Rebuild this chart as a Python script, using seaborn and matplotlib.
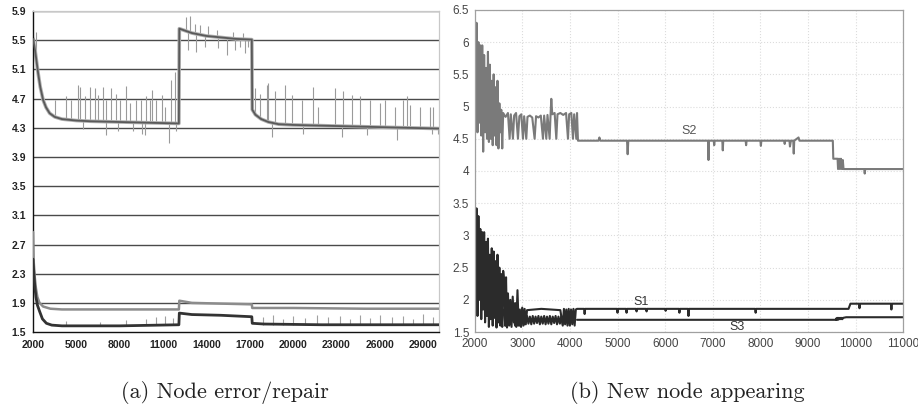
"""
Two-panel convergence plot: (a) node error/repair, (b) new node appearing
"""
import numpy as np
import matplotlib
matplotlib.use("Agg")
import matplotlib.pyplot as plt
import seaborn as sns

sns.set_theme(style="white")
plt.rcParams['font.family'] = ['Liberation Sans', 'DejaVu Sans']

# ---------------- (a) node error / repair ----------------
# upper cluster, smoothed trace
a_up_x = [2000, 2150, 2350, 2500, 2700, 2900, 3150, 3500, 4000, 5000, 6000, 8000, 10000, 12100,
          12130, 13000, 14000, 15000, 16000, 17150,
          17180, 17400, 17800, 18300, 19000, 20000, 22000, 24000, 26000, 28000, 30100]
a_up_y = [5.52, 5.35, 5.05, 4.86, 4.68, 4.58, 4.50, 4.45, 4.42, 4.40, 4.39, 4.38, 4.37, 4.36,
          5.66, 5.60, 5.56, 5.54, 5.52, 5.51,
          4.55, 4.48, 4.42, 4.38, 4.35, 4.34, 4.33, 4.32, 4.31, 4.30, 4.29]

# upper cluster, raw trace spikes (x, base, tip)
a_spike_x = [2185, 3500, 4310, 4657, 5119, 5234, 5580, 5927, 6274, 6505, 6851, 7082, 7429, 7775,
             8006, 8422, 8699, 9161, 9508, 9854, 10085, 10270, 10547, 10940, 11125, 11587, 11818,
             5465, 7036, 7891, 8930, 9560, 9739, 11425, 11933,
             12626, 12903, 13204, 13550, 14128, 14705, 15860, 16553,
             12742, 13319, 13897, 14821, 15398, 15976, 16322, 16669, 16900,
             17362, 17708, 18170, 18286, 18748, 19441, 19903, 20596, 21404, 21751, 22906, 23483,
             24061, 24638, 25331, 26024, 26371, 27064, 27641, 27872, 28103, 28796, 29489, 29720,
             18517, 20711, 23368, 25100, 27179, 29605, 30060]
a_spike_base = [5.35, 4.44, 4.42, 4.41, 4.40, 4.40, 4.40, 4.39, 4.39, 4.39, 4.38, 4.38, 4.38, 4.38,
                4.38, 4.37, 4.37, 4.37, 4.37, 4.37, 4.37, 4.37, 4.36, 4.36, 4.36, 4.36, 4.36,
                4.40, 4.38, 4.38, 4.37, 4.37, 4.37, 4.36, 4.36,
                5.62, 5.61, 5.60, 5.59, 5.57, 5.56, 5.54, 5.53,
                5.61, 5.60, 5.58, 5.56, 5.55, 5.54, 5.53, 5.52, 5.52,
                4.47, 4.44, 4.41, 4.40, 4.38, 4.36, 4.35, 4.34, 4.34, 4.34, 4.33, 4.33,
                4.32, 4.32, 4.31, 4.31, 4.31, 4.30, 4.30, 4.30, 4.30, 4.29, 4.29, 4.29,
                4.39, 4.34, 4.33, 4.32, 4.30, 4.29, 4.29]
a_spike_tip = [5.62, 4.68, 4.73, 4.68, 4.89, 4.86, 4.73, 4.86, 4.84, 4.75, 4.86, 4.68, 4.84, 4.77,
               4.68, 4.87, 4.64, 4.68, 4.68, 4.73, 4.68, 4.82, 4.68, 4.75, 4.59, 4.95, 5.07,
               4.29, 4.20, 4.25, 4.26, 4.22, 4.20, 4.09, 4.25,
               5.82, 5.83, 5.73, 5.71, 5.69, 5.64, 5.62, 5.60,
               5.37, 5.34, 5.41, 5.39, 5.30, 5.37, 5.41, 5.32, 5.41,
               4.84, 4.77, 4.89, 4.91, 4.80, 4.89, 4.75, 4.68, 4.86, 4.59, 4.84, 4.80,
               4.75, 4.73, 4.68, 4.64, 4.68, 4.59, 4.68, 4.73, 4.61, 4.59, 4.59, 4.59,
               4.18, 4.22, 4.18, 4.20, 4.13, 4.22, 4.22]

# lower cluster, light trace
a_lo1_x = [2000, 2050, 2120, 2200, 2300, 2450, 2700, 3200, 4000, 8000, 12100,
           12130, 13000, 15000, 17150, 17180, 20000, 25000, 30100]
a_lo1_y = [2.87, 2.45, 2.25, 2.10, 1.98, 1.90, 1.85, 1.82, 1.81, 1.81, 1.81,
           1.93, 1.90, 1.89, 1.88, 1.83, 1.83, 1.82, 1.82]

# lower cluster, dark trace
a_lo2_x = [2000, 2050, 2115, 2200, 2300, 2460, 2650, 2925, 3300, 4000, 8000, 12100,
           12130, 13000, 15000, 17150, 17180, 18000, 22000, 30100]
a_lo2_y = [2.50, 2.32, 2.14, 1.98, 1.87, 1.78, 1.68, 1.62, 1.595, 1.585, 1.585, 1.60,
           1.76, 1.74, 1.73, 1.71, 1.62, 1.61, 1.60, 1.60]

# lower cluster, raw trace spikes
a_lspike_x = [4310, 6620, 8470, 9854, 10547, 11125, 11700, 17940, 18632, 19325, 20018, 20826,
              21635, 22444, 23252, 23945, 24638, 25331, 26024, 26833, 27641, 28334, 29027, 29720]
a_lspike_tip = [1.65, 1.64, 1.66, 1.68, 1.70, 1.72, 1.69, 1.70, 1.73, 1.68, 1.72, 1.69,
                1.74, 1.70, 1.72, 1.68, 1.73, 1.69, 1.74, 1.70, 1.72, 1.68, 1.75, 1.70]

a_yticks = [1.5, 1.9, 2.3, 2.7, 3.1, 3.5, 3.9, 4.3, 4.7, 5.1, 5.5, 5.9]
a_xticks = [2000, 5000, 8000, 11000, 14000, 17000, 20000, 23000, 26000, 29000]

# ---------------- (b) new node appearing ----------------
# S2: early oscillation sampled every 20 iterations, then steps
s2_early_y = [6.37, 4.90, 6.30, 4.60, 6.00, 4.75, 5.95, 4.55, 5.95, 4.30,
              5.80, 4.60, 5.60, 4.50, 5.85, 4.45, 5.65, 4.50, 5.40, 4.40,
              5.50, 4.55, 5.30, 4.40, 5.40, 4.35, 5.05, 4.60, 4.95, 4.35, 4.90]
s2_x = [2610, 2650, 2700, 2735, 2760, 2805, 2830, 2870, 2910, 2940, 2980, 3015, 3040, 3085,
        3110, 3160, 3210, 3260, 3290, 3340, 3390, 3435, 3460, 3505, 3530, 3575, 3595, 3610,
        3630, 3680, 3715, 3740, 3800, 3860, 3920, 3960, 3985, 4030, 4065, 4090, 4135, 4150,
        4170, 4600, 4620, 4640, 5200, 5213, 5226, 6900, 6910, 6920, 7020, 7030, 7040, 7200,
        7210, 7220, 7690, 7700, 7710, 8000, 8010, 8020, 8500, 8510, 8520, 8610, 8620, 8640,
        8690, 8700, 8710, 8800, 8820, 9520, 9530, 9620, 9630, 9650, 9670, 9690, 9710, 9730,
        9745, 10180, 10190, 10200, 11000]
s2_y = [4.88, 4.84, 4.90, 4.50, 4.88, 4.50, 4.86, 4.90, 4.50, 4.85, 4.88, 4.50, 4.85, 4.50,
        4.84, 4.86, 4.83, 4.50, 4.85, 4.83, 4.86, 4.50, 4.86, 4.50, 4.87, 4.50, 4.88, 5.12,
        4.88, 4.90, 4.50, 4.88, 4.90, 4.87, 4.90, 4.50, 4.88, 4.90, 4.50, 4.88, 4.50, 4.90,
        4.47, 4.47, 4.52, 4.47, 4.47, 4.26, 4.47, 4.47, 4.17, 4.47, 4.47, 4.40, 4.47, 4.47,
        4.32, 4.47, 4.47, 4.40, 4.47, 4.47, 4.39, 4.47, 4.47, 4.42, 4.47, 4.47, 4.38, 4.47,
        4.47, 4.27, 4.47, 4.52, 4.47, 4.47, 4.19, 4.19, 4.03, 4.19, 4.03, 4.19, 4.03, 4.17,
        4.03, 4.03, 3.96, 4.03, 4.03]

# S1: early oscillation sampled every 20 iterations, then band and steps
s1_early_y = [2.60, 1.90, 3.42, 1.75, 3.30, 2.00, 3.10, 1.70, 3.05, 1.85,
              3.05, 1.65, 2.90, 1.75, 2.95, 1.58, 2.70, 1.70, 2.80, 1.60,
              2.75, 1.72, 2.60, 1.57, 2.70, 1.65, 2.50, 1.60, 2.40, 1.58, 2.45]
s1_x = [2620, 2640, 2660, 2680, 2700, 2725, 2750, 2775, 2800, 2825, 2850, 2875, 2900, 2925,
        2950, 2975, 3000, 3025, 3050, 3075, 3100, 3400, 3800, 3850, 3875, 3900, 3925, 3950,
        3975, 4000, 4025, 4050, 4075, 4100, 4125, 4150,
        4170, 4300, 4310, 4320, 4990, 5000, 5010, 5180, 5190, 5200, 5390, 5400, 5410,
        5600, 5610, 5620, 6000, 6010, 6020, 6290, 6300, 6310, 6480, 6490, 6500, 7890, 7900,
        7910, 9850, 9890, 10070, 10080, 10090, 10740, 10750, 10760, 11000]
s1_y = [2.30, 1.60, 2.35, 1.57, 2.10, 1.60, 2.00, 1.58, 2.05, 1.65, 1.95, 1.58, 2.15, 1.60,
        1.85, 1.58, 1.88, 1.60, 1.86, 1.62, 1.84, 1.86, 1.84, 1.60, 1.86, 1.62, 1.85, 1.60,
        1.86, 1.60, 1.85, 1.62, 1.86, 1.60, 1.85, 1.86,
        1.86, 1.86, 1.78, 1.86, 1.86, 1.80, 1.86, 1.86, 1.80, 1.86, 1.86, 1.82, 1.86,
        1.86, 1.82, 1.86, 1.86, 1.83, 1.86, 1.86, 1.80, 1.86, 1.86, 1.75, 1.86, 1.86, 1.80,
        1.86, 1.86, 1.94, 1.94, 1.87, 1.94, 1.94, 1.85, 1.94, 1.94]

# early S1 band lower edge between 2600 and 3850 (drawn as zigzag)
s1_band_x = [2600, 2650, 2700, 2750, 2800, 2850, 2900, 2950, 3000, 3050, 3100, 3130, 3160,
             3190, 3220, 3250, 3280, 3310, 3340, 3370, 3400, 3430, 3460, 3490, 3520, 3550,
             3580, 3610, 3640, 3670, 3700, 3730, 3760, 3790, 3820, 3850]
s1_band_y = [1.85, 1.60, 1.86, 1.62, 1.84, 1.60, 1.85, 1.60, 1.86, 1.62, 1.75, 1.63, 1.74,
             1.62, 1.75, 1.63, 1.74, 1.64, 1.75, 1.62, 1.74, 1.63, 1.75, 1.62, 1.74, 1.63,
             1.75, 1.62, 1.74, 1.64, 1.75, 1.62, 1.74, 1.63, 1.75, 1.62]

# S3
s3_x = [4150, 9580, 9590, 9600, 9615, 9630, 9645, 9660, 9675, 9690, 9705, 9720, 9735, 9800, 11000]
s3_y = [1.69, 1.69, 1.71, 1.69, 1.72, 1.69, 1.72, 1.70, 1.72, 1.70, 1.72, 1.70, 1.72, 1.73, 1.73]

b_yticks = [1.5, 2, 2.5, 3, 3.5, 4, 4.5, 5, 5.5, 6, 6.5]
b_ytick_labels = ['1.5', '2', '2.5', '3', '3.5', '4', '4.5', '5', '5.5', '6', '6.5']
b_xticks = [2000, 3000, 4000, 5000, 6000, 7000, 8000, 9000, 10000, 11000]

captions = ['(a) Node error/repair', '(b) New node appearing']


def draw():
    fig = plt.figure(figsize=(9.18, 4.13), dpi=100)
    ax1 = fig.add_axes([0.036, 0.196, 0.442, 0.777])
    ax2 = fig.add_axes([0.517, 0.196, 0.467, 0.780])

    # --- panel (a) ---
    for y in a_yticks[1:]:
        ax1.axhline(y, color='#4a4a4a', lw=1.0, zorder=0)
    ax1.vlines(a_spike_x, a_spike_base, a_spike_tip, color='#9a9a9a', lw=0.8, zorder=2)
    sns.lineplot(x=a_up_x, y=a_up_y, ax=ax1, color='#b0b0b0', lw=2.6, zorder=2,
                 estimator=None, sort=False)
    sns.lineplot(x=a_up_x, y=a_up_y, ax=ax1, color='#5a5a5a', lw=1.3, zorder=3,
                 estimator=None, sort=False)
    ax1.vlines(a_lspike_x, 1.60, a_lspike_tip, color='#a0a0a0', lw=0.8, zorder=2)
    sns.lineplot(x=a_lo1_x, y=a_lo1_y, ax=ax1, color='#8c8c8c', lw=1.8, zorder=3,
                 estimator=None, sort=False)
    sns.lineplot(x=a_lo2_x, y=a_lo2_y, ax=ax1, color='#333333', lw=2.0, zorder=4,
                 estimator=None, sort=False)

    ax1.set_xlim(2000, 30100)
    ax1.set_ylim(1.5, 5.9)
    ax1.set_yticks(a_yticks)
    ax1.set_yticklabels([f'{v:.1f}' for v in a_yticks])
    ax1.set_xticks(a_xticks)
    ax1.set_xticklabels([str(v) for v in a_xticks])
    for side in ['top', 'right']:
        ax1.spines[side].set_color('#c8c8c8')
        ax1.spines[side].set_linewidth(0.9)
    for side in ['left', 'bottom']:
        ax1.spines[side].set_color('#111111')
        ax1.spines[side].set_linewidth(1.0)
    ax1.tick_params(axis='y', direction='out', length=3, width=0.8, color='#111111',
                    labelsize=7.5, pad=2)
    ax1.tick_params(axis='x', direction='inout', length=4, width=0.8, color='#111111',
                    labelsize=7.5, pad=4)
    for lab in ax1.get_xticklabels() + ax1.get_yticklabels():
        lab.set_fontweight('bold')
        lab.set_color('#222222')

    # --- panel (b) ---
    ax2.grid(True, color='#dcdcdc', ls=':', lw=0.8)
    ax2.set_axisbelow(True)
    s2_all_x = list(np.arange(2000, 2610, 20)) + s2_x
    s2_all_y = s2_early_y + s2_y
    s1_all_x = list(np.arange(2000, 2610, 20)) + s1_x
    s1_all_y = s1_early_y + s1_y
    sns.lineplot(x=s2_all_x, y=s2_all_y, ax=ax2, color='#7a7a7a', lw=1.5,
                 estimator=None, sort=False)
    sns.lineplot(x=s1_band_x, y=s1_band_y, ax=ax2, color='#2b2b2b', lw=1.5,
                 estimator=None, sort=False)
    sns.lineplot(x=s1_all_x, y=s1_all_y, ax=ax2, color='#2b2b2b', lw=1.5,
                 estimator=None, sort=False)
    sns.lineplot(x=s3_x, y=s3_y, ax=ax2, color='#2b2b2b', lw=1.5,
                 estimator=None, sort=False)

    ax2.text(6500, 4.53, 'S2', fontsize=9, color='#555555', ha='center', va='bottom')
    ax2.text(5500, 1.88, 'S1', fontsize=9, color='#333333', ha='center', va='bottom')
    ax2.text(7500, 1.67, 'S3', fontsize=9, color='#333333', ha='center', va='top')

    ax2.set_xlim(2000, 11000)
    ax2.set_ylim(1.5, 6.5)
    ax2.set_xticks(b_xticks)
    ax2.set_xticklabels([str(v) for v in b_xticks])
    ax2.set_yticks(b_yticks)
    ax2.set_yticklabels(b_ytick_labels)
    for side in ax2.spines:
        ax2.spines[side].set_color('#a0a0a0')
        ax2.spines[side].set_linewidth(0.9)
    ax2.tick_params(direction='in', length=2, width=0.6, color='#a0a0a0',
                    labelsize=8.5, labelcolor='#444444', pad=4)

    # captions in a Computer Modern style face
    fig.text(0.245, 0.05, captions[0], fontsize=16, family=['cmr10', 'DejaVu Serif'],
             ha='center', va='center', color='#222222')
    fig.text(0.749, 0.05, captions[1], fontsize=16, family=['cmr10', 'DejaVu Serif'],
             ha='center', va='center', color='#222222')

    fig.savefig('out.png', dpi=100)


if __name__ == "__main__":
    draw()
